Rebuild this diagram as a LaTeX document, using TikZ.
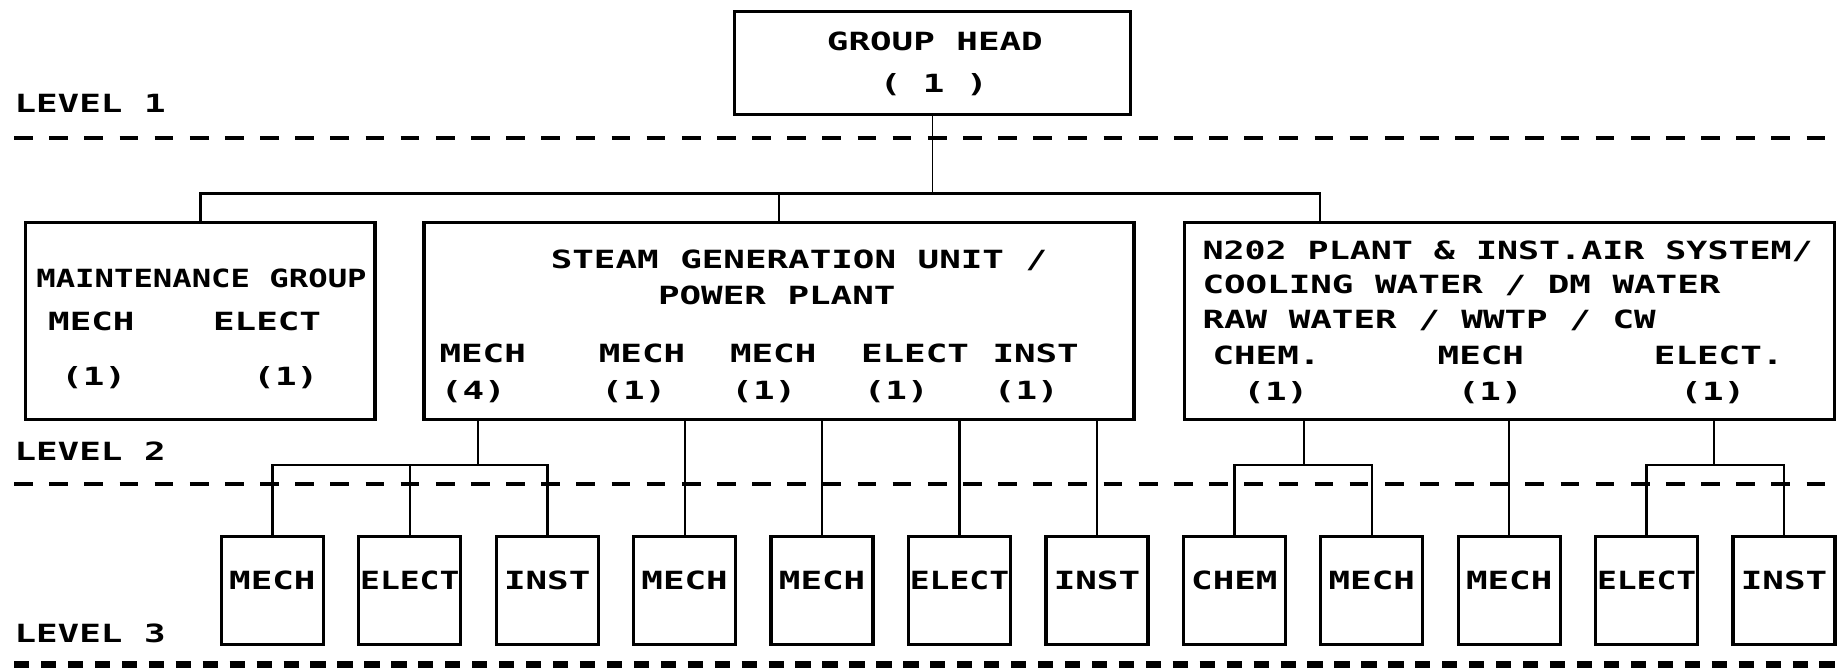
\documentclass[tikz,border=0pt]{standalone}
\usepackage{fontspec}
\usepackage{graphicx}
\newfontfamily\plotfam[FakeStretch=1.43]{DejaVu Sans Mono}
\newcommand\plotf{\plotfam\bfseries\fontsize{10.7pt}{12pt}\selectfont}
\newcommand\sqz[1]{\scalebox{0.92}[1]{#1}}
\usetikzlibrary{calc}
\tikzset{
  txt/.style={inner sep=0pt, text height=7.8pt, text depth=0pt, font=\plotf},
  box/.style={draw, line width=1.4pt, inner sep=0pt},
  lvlthree/.style={box, minimum width=43.5pt, minimum height=46pt, text height=7.8pt, text depth=9pt, font=\plotf},
  conn/.style={line width=1.1pt},
  connthin/.style={line width=0.9pt},
  hairline/.style={line width=0.5pt},
  levelline/.style={line width=1.7pt, dash pattern=on 8pt off 7pt},
  bottomline/.style={line width=2.8pt, dash pattern=on 6.5pt off 5pt},
}
\begin{document}
\begin{tikzpicture}[x=0.5pt,y=0.5pt]
\fill[white] (0,0) rectangle (1568,571);
\useasboundingbox (0,0) rectangle (1568,571);

% level separators
\draw[levelline] (12,453) -- (1568,453);
\draw[levelline] (12,158) -- (1568,158);
\draw[bottomline] (12,4) -- (1568,4);
\node[txt, anchor=west] (lev1) at (12,483) {LEVEL 1};
\node[txt, anchor=west] (lev2) at (12,186) {LEVEL 2};
\node[txt, anchor=west] (lev3) at (12,30) {LEVEL 3};

% level 1
\node[box, minimum width=169pt, minimum height=44pt] (gh) at (796,517) {};
\node[txt] (ghA) at (798,536) {GROUP HEAD};
\node[txt] (ghB) at (797,500) {( 1 )};

% level 2 boxes
\node[box, minimum width=149pt, minimum height=84pt] (maint) at (171,297) {};
\node[box, minimum width=303pt, minimum height=84pt] (steam) at (665,297) {};
\node[box, minimum width=277.5pt, minimum height=84pt] (n202) at (1288.5,297) {};

% maintenance texts
\node[txt] (mA) at (172,333) {\scalebox{0.9}[1]{MAINTENANCE GROUP}};
\node[txt] (mB) at (78,297) {MECH};
\node[txt] (mC) at (228,297) {ELECT};
\node[txt] (mD) at (80,250) {(1)};
\node[txt] (mE) at (244,250) {(1)};

% steam texts
\node[txt] (sA) at (682,350) {STEAM GENERATION UNIT /};
\node[txt] (sB) at (663,319) {POWER PLANT};
\node[txt] (sC1) at (412,269) {MECH};
\node[txt] (sC2) at (548,269) {MECH};
\node[txt] (sC3) at (660,269) {MECH};
\node[txt] (sC4) at (781,269) {ELECT};
\node[txt] (sC5) at (884,269) {INST};
\node[txt] (sD1) at (404,238) {(4)};
\node[txt] (sD2) at (541,238) {(1)};
\node[txt] (sD3) at (652,238) {(1)};
\node[txt] (sD4) at (765,238) {(1)};
\node[txt] (sD5) at (876,238) {(1)};

% N202 texts
\node[txt, anchor=west] (nA) at (1026,357) {\scalebox{0.975}[1]{N202 PLANT \& INST.AIR SYSTEM/}};
\node[txt, anchor=west] (nB) at (1026,328) {COOLING WATER / DM WATER};
\node[txt, anchor=west] (nC) at (1026,298) {RAW WATER / WWTP / CW};
\node[txt] (nD1) at (1081,268) {CHEM.};
\node[txt] (nD2) at (1264,268) {MECH};
\node[txt] (nD3) at (1467,268) {ELECT.};
\node[txt] (nE1) at (1089,237) {(1)};
\node[txt] (nE2) at (1272,237) {(1)};
\node[txt] (nE3) at (1462,237) {(1)};

% level 3 boxes
\foreach \t [count=\i from 0] in {MECH,\sqz{ELECT},INST,MECH,MECH,\sqz{ELECT},INST,CHEM,MECH,MECH,\sqz{ELECT},INST}
  \node[lvlthree] (L\i) at ({232.5+117.3*\i},67) {\t};

% connectors level 1 -> level 2
\coordinate (b1) at (0,406);
\coordinate (n2top) at ($(n202.north west)+(117,0)$);
\draw[hairline] (gh.south) -- (gh.south |- b1);
\draw[conn] (maint.north) |- (n2top |- b1) -- (n2top);
\draw[conn] (steam.north) -- (steam.north |- b1);

% connectors level 2 -> level 3
\coordinate (j1) at (408,174);
\coordinate (j2) at (1113,174);
\coordinate (j3) at (1463,174);
\draw[conn] (j1 |- steam.south) -- (j1);
\draw[conn] (L0.north) |- (j1) -| (L2.north);
\draw[conn] (L1.north) -- (L1.north |- j1);
\draw[connthin] (L3.north |- steam.south) -- (L3.north);
\draw[connthin] (L4.north |- steam.south) -- (L4.north);
\draw[connthin] (L5.north |- steam.south) -- (L5.north);
\draw[connthin] (L6.north |- steam.south) -- (L6.north);
\draw[conn] (j2 |- n202.south) -- (j2);
\draw[conn] (L7.north) |- (j2) -| (L8.north);
\draw[connthin] (L9.north |- n202.south) -- (L9.north);
\draw[conn] (j3 |- n202.south) -- (j3);
\draw[conn] (L10.north) |- (j3) -| (L11.north);
\end{tikzpicture}
\end{document}
